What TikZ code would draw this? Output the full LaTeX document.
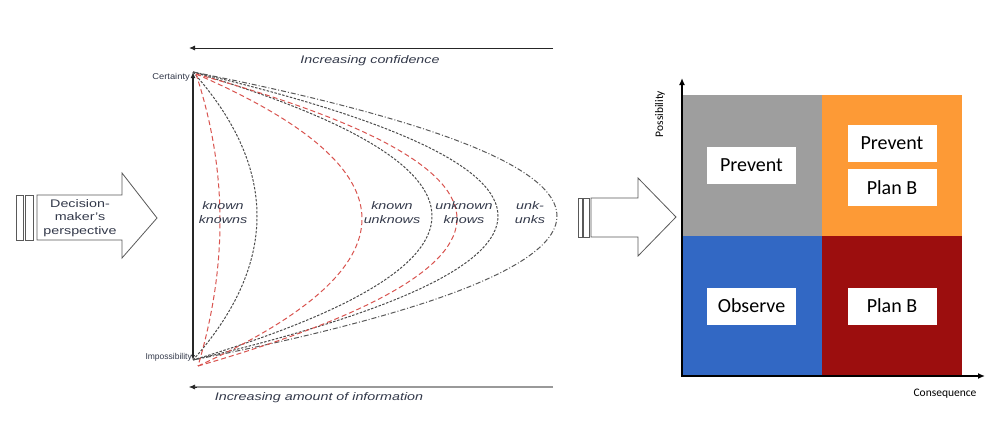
\documentclass[tikz,border=0pt]{standalone}
\usepackage{fontspec}
\setmainfont{Liberation Sans}
\newfontfamily\calfont{Carlito}
\usetikzlibrary{arrows.meta}
\definecolor{txtc}{HTML}{33394A}
\definecolor{qgray}{HTML}{9E9E9E}
\definecolor{qorange}{HTML}{FD9A36}
\definecolor{qblue}{HTML}{3268C4}
\definecolor{qred}{HTML}{9C0E0E}
\definecolor{redd}{HTML}{D9534F}
\newcommand\wide[1]{\scalebox{1.3}[1]{#1}}
\newcommand\twol[2]{\begin{tabular}{@{}c@{}}#1\\#2\end{tabular}}
\begin{document}
\begin{tikzpicture}[x=1pt,y=-1pt,
  ltxt/.style={text=txtc,inner sep=0pt,font=\fontsize{11}{13.5}\selectfont\itshape},
  axtxt/.style={text=txtc,inner sep=0pt,font=\fontsize{8.5}{9}\selectfont},
  blkd/.style={draw=black!70,line width=1pt,dash pattern=on 2.5pt off 1.5pt},
  redc/.style={draw=redd,line width=1pt,dash pattern=on 5pt off 3pt},
  dashdot/.style={draw=black!65,line width=1pt,dash pattern=on 5pt off 2pt on 1pt off 2pt},
  blockarrow/.style={draw=black!65,line width=0.8pt,fill=white,line join=miter},
  wbox/.style={fill=white,minimum width=89pt,minimum height=37pt,inner sep=0pt,font=\calfont\fontsize{20}{22}\selectfont},
  rtxt/.style={inner sep=0pt,font=\calfont\fontsize{11.5}{12}\selectfont}
]
\useasboundingbox (0,0) rectangle (1006,429);
\fill[white] (0,0) rectangle (1006,429);

% ---------- left panel ----------
\coordinate (top) at (193,72);
\coordinate (bot) at (193,360);
\coordinate (rtop) at (196,74);
\coordinate (rbot) at (198,366);
\coordinate (a1s) at (553,48);
\coordinate (a1e) at (189,48);
\coordinate (a2s) at (553,387);
\coordinate (a2e) at (189,387);

\draw[black!85,line width=0.9pt,-{Latex[length=6pt,width=5pt]}] (a1s) -- (a1e);
\draw[black!40,line width=2pt] (a2s) -- ([xshift=4pt]a2e);
\draw[black!85,line width=0.6pt,-{Latex[length=6pt,width=5pt]}] ([xshift=8pt]a2e) -- (a2e);

\node[ltxt] (conf) at (370,61) {\wide{Increasing confidence}};
\node[ltxt] (info) at (319,398) {\wide{Increasing amount of information}};

% curves (quadratic, peak x = P)
\foreach \p/\s in {257/blkd,432/blkd,498/blkd,557/dashdot}{
  \pgfmathsetmacro\c{193+4/3*(\p-193)}
  \draw[\s] (top) .. controls (\c,168) and (\c,264) .. (bot);
}
\foreach \p in {220,362,457}{
  \pgfmathsetmacro\c{197+4/3*(\p-197)}
  \draw[redc] (rtop) .. controls (\c,170) and (\c,266) .. (rbot);
}

\draw[black!85,line width=1.3pt,{Latex[length=5pt,width=4pt]}-{Latex[length=6pt,width=5pt]}] (bot) -- (top);

\node[axtxt,anchor=east] (cert) at (190,77) {\scalebox{1.1}[1]{Certainty}};
\node[axtxt,anchor=east] (imp) at (192,357) {Impossibility};

\node[ltxt] (kk) at (223,214) {\wide{\twol{known}{knowns}}};
\node[ltxt] (ku) at (392,214) {\wide{\twol{known}{unknows}}};
\node[ltxt] (uk) at (464,214) {\wide{\twol{unknown}{knows}}};
\node[ltxt] (uu) at (530,214) {\wide{\twol{unk-}{unks}}};

% decision-maker block arrow
\draw[blockarrow] (16,195) rectangle (23,240);
\draw[blockarrow] (25,195) rectangle (33,240);
\draw[blockarrow] (37,195) -- (122,195) -- (122,173) -- (157,218) -- (122,258) -- (122,240) -- (37,240) -- cycle;
\node[ltxt,font=\fontsize{11}{13.5}\selectfont] (dm) at (80,218) {\wide{\twol{Decision-}{\twol{maker's}{perspective}}}};

% ---------- middle block arrow ----------
\draw[blockarrow] (578,198) rectangle (582,237);
\draw[blockarrow] (583,198) rectangle (589,237);
\draw[blockarrow] (591,198) -- (638,198) -- (638,178) -- (676,217) -- (638,256) -- (638,237) -- (591,237) -- cycle;

% ---------- right panel ----------
\fill[qgray] (683,95) rectangle (822,236);
\fill[qorange] (822,95) rectangle (962,236);
\fill[qblue] (683,236) rectangle (822,376);
\fill[qred] (822,236) rectangle (962,376);

\coordinate (org) at (682,376);
\coordinate (ytop) at (682,78);
\coordinate (xend) at (985,376);
\draw[black,line width=1.8pt,-{Latex[length=7pt,width=6pt]}] ([yshift=0.9pt]org) -- (ytop);
\draw[black,line width=1.8pt,-{Latex[length=7pt,width=6pt]}] ([xshift=-0.9pt]org) -- (xend);

\node[wbox] (p1) at (751.5,165.5) {Prevent};
\node[wbox] (p2) at (892,143.5) {Prevent};
\node[wbox] (b1) at (892,187.5) {Plan B};
\node[wbox] (ob) at (751.5,306) {Observe};
\node[wbox] (b2) at (892,306) {Plan B};

\node[rtxt,rotate=90] (poss) at (660,114) {Possibility};
\node[rtxt] (cons) at (945,394) {Consequence};
\end{tikzpicture}
\end{document}
